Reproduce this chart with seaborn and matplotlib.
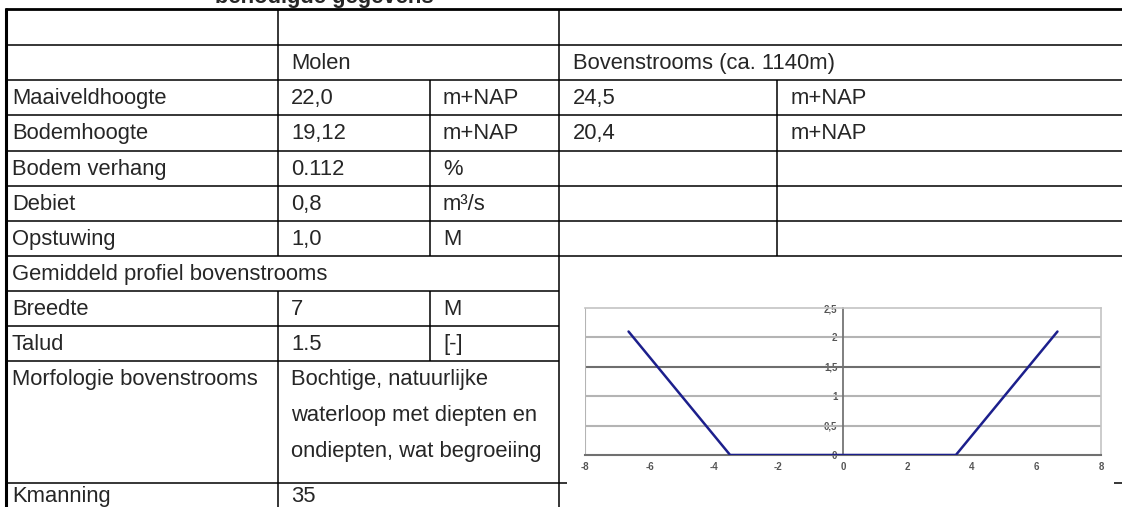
import numpy as np
import matplotlib.pyplot as plt
import seaborn as sns
from matplotlib.patches import Rectangle

sns.set_theme(style='white')
plt.rcParams['font.family'] = ['Liberation Sans', 'DejaVu Sans']

# table content
row_labels = ['', '', 'Maaiveldhoogte', 'Bodemhoogte', 'Bodem verhang', 'Debiet', 'Opstuwing',
              'Gemiddeld profiel bovenstrooms', 'Breedte', 'Talud', 'Morfologie bovenstrooms', 'Kmanning']
molen_values = ['', 'Molen', '22,0', '19,12', '0.112', '0,8', '1,0', '', '7', '1.5',
                'Bochtige, natuurlijke\nwaterloop met diepten en\nondiepten, wat begroeiing', '35']
molen_units = ['', '', 'm+NAP', 'm+NAP', '%', 'm\u00b3/s', 'M', '', 'M', '[-]', '', '']
boven_values = ['', 'Bovenstrooms (ca. 1140m)', '24,5', '20,4', '', '', '']
boven_units = ['', '', 'm+NAP', 'm+NAP', '', '', '']

# average upstream cross-section (chart)
profile_x = [-6.65, -3.5, 3.5, 6.65]
profile_y = [2.1, 0.0, 0.0, 2.1]
y_ticks = [0, 0.5, 1, 1.5, 2, 2.5]
x_ticks = [-8, -6, -4, -2, 0, 2, 4, 6, 8]

W, H = 1122, 507
fig = plt.figure(figsize=(W / 100, H / 100), dpi=100)
ax = fig.add_axes([0, 0, 1, 1])
ax.set_xlim(0, W)
ax.set_ylim(H, 0)
ax.axis('off')

fs = 15.8
row_edges = [9, 45, 80, 115, 151, 186, 221, 256, 291, 326, 361, 483, 520]
text_x = [12, 291, 443, 573, 791]

# horizontal lines
for i, y in enumerate(row_edges[:-1]):
    right = W if (y <= 256 or y == 483) else 559
    lw = 2.0 if i == 0 else 1.1
    ax.hlines(y, 5, right, color='black', lw=lw, zorder=2)

# vertical lines per row
row_cols = [[278, 559], [278, 559]] + [[278, 430, 559, 777]] * 5 + [[559], [278, 430, 559],
                                                                   [278, 430, 559], [278, 559], [278, 559]]
for i, cols in enumerate(row_cols):
    y0, y1 = row_edges[i], row_edges[i + 1]
    ax.vlines(cols, y0, y1, color='black', lw=1.1, zorder=2)
ax.vlines(6.5, 8, H, color='black', lw=2.2, zorder=2)

# texts
for i, lab in enumerate(row_labels):
    base = row_edges[i] + 24
    if i == len(row_labels) - 1:
        base = 502
    if lab:
        ax.text(text_x[0], base, lab, fontsize=fs, va='baseline', ha='left')
    val = molen_values[i]
    if val:
        for k, line in enumerate(val.split('\n')):
            ax.text(text_x[1], base + k * 36, line, fontsize=fs, va='baseline', ha='left')
    if molen_units[i]:
        ax.text(text_x[2], base, molen_units[i], fontsize=fs, va='baseline', ha='left')
    if i < len(boven_values):
        if boven_values[i]:
            ax.text(text_x[3], base, boven_values[i], fontsize=fs, va='baseline', ha='left')
        if boven_units[i]:
            ax.text(text_x[4], base, boven_units[i], fontsize=fs, va='baseline', ha='left')

ax.text(215, 2.5, 'benodigde gegevens', fontsize=fs, fontweight='bold', va='baseline', ha='left')

# white chart object covering the cell lines
ax.add_patch(Rectangle((567, 262), 547, 228, facecolor='white', edgecolor='none', zorder=3))

# chart
cx = fig.add_axes([585 / W, (H - 455) / H, 516 / W, 147 / H])
cx.set_facecolor('white')
for yv in [0.5, 1, 2]:
    cx.axhline(yv, color='#b4b4b4', lw=1.5, zorder=1)
cx.axhline(1.5, color='#6e6e6e', lw=1.5, zorder=1)
sns.lineplot(x=profile_x, y=profile_y, sort=False, estimator=None, color='#1c1f8c',
             linewidth=1.8, ax=cx, zorder=3)
cx.set_xlim(-8, 8)
cx.set_ylim(0, 2.5)
cx.spines['left'].set_position(('data', 0))
cx.spines['left'].set_color('#707070')
cx.spines['bottom'].set_color('#707070')
cx.spines['bottom'].set_linewidth(1.5)
for s in ['top', 'right']:
    cx.spines[s].set_visible(True)
    cx.spines[s].set_color('#c4c4c4')
    cx.spines[s].set_linewidth(1.2)
cx.axvline(-8, color='#b4b4b4', lw=1.5, zorder=1)
cx.set_xticks(x_ticks)
cx.set_xticklabels([str(v) for v in x_ticks])
cx.set_yticks(y_ticks)
cx.set_yticklabels([('%g' % v).replace('.', ',') for v in y_ticks])
cx.tick_params(axis='both', direction='out', length=3, width=0.8, color='#707070',
               labelsize=7, labelcolor='#555555', pad=2)
cx.tick_params(axis='y', pad=1)
for t in cx.get_xticklabels() + cx.get_yticklabels():
    t.set_fontweight('bold')
cx.set_xlabel('')
cx.set_ylabel('')

fig.savefig('out.png', dpi=100)
